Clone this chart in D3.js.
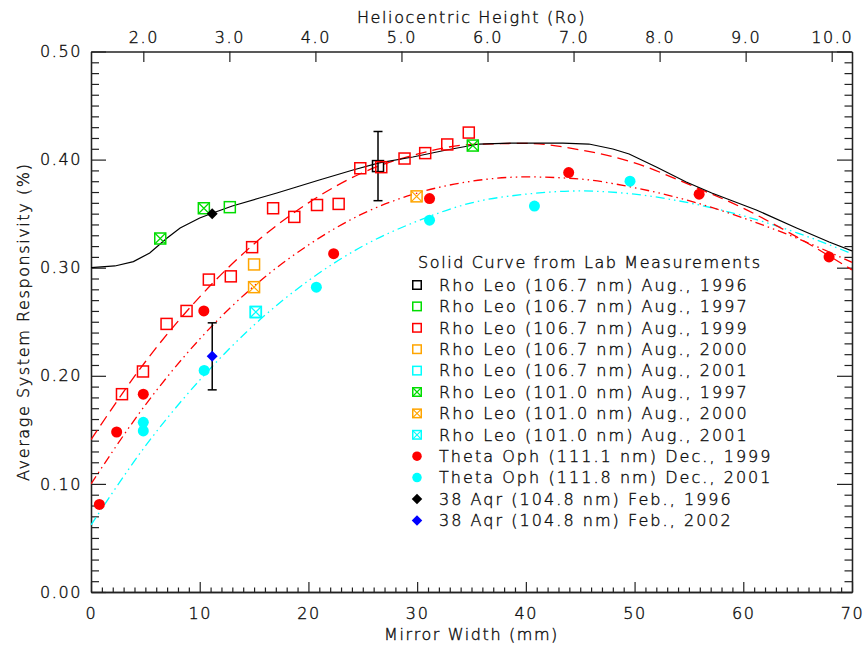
<!DOCTYPE html>
<html>
<head>
<meta charset="utf-8">
<script src="https://cdn.jsdelivr.net/npm/d3@7"></script>
<style>
  html, body { margin: 0; padding: 0; background: #fff; }
  svg { display: block; font-family: "DejaVu Sans", sans-serif; }
  .lbl { fill: #111; stroke: #111; stroke-width: 0.4px; font-size: 16px; letter-spacing: 1.6px; font-weight: 300; font-family: "DejaVu Sans", sans-serif; }
  .row { letter-spacing: 2.05px; }
</style>
</head>
<body>
<svg id="chart" width="865" height="648"></svg>
<script>
// ---- Data: mirror width (mm) vs. average system responsivity (%) ----

// Laboratory measurement curve (solid black)
const labCurve = [
  [0, 0.300], [2.2, 0.3016], [3.9, 0.3056], [5.4, 0.3136], [7.0, 0.3275], [8.2, 0.3367],
  [10.0, 0.3460], [11.2, 0.3506], [13.0, 0.3571], [15.5, 0.3645], [17.1, 0.3691],
  [18.9, 0.3747], [21.0, 0.3811], [24.1, 0.3904], [26.5, 0.3969], [29.6, 0.4024],
  [32.7, 0.4089], [35.7, 0.4144], [38.8, 0.4153], [43.4, 0.4153], [45.8, 0.4144],
  [48.0, 0.4098], [49.5, 0.4052], [52.0, 0.3931], [54.75, 0.3793], [57.1, 0.3691],
  [61.2, 0.3534], [64.9, 0.3367], [67.9, 0.3238], [70, 0.3155]
];

// Fitted curves
const fitRhoLeo1999 = [
  [0, 0.141], [5, 0.213], [10, 0.273], [15, 0.322], [20, 0.360], [25, 0.388], [30, 0.405],
  [35, 0.414], [40, 0.415], [45, 0.409], [50, 0.397], [55, 0.377], [60, 0.355], [65, 0.328], [70, 0.298]
];
const fitThetaOph1999 = [
  [0, 0.100], [5, 0.173], [10, 0.234], [15, 0.283], [20, 0.321], [25, 0.350], [30, 0.369],
  [35, 0.380], [40, 0.384], [45, 0.382], [50, 0.374], [55, 0.362], [60, 0.346], [65, 0.327], [70, 0.305]
];
const fitThetaOph2001 = [
  [0, 0.062], [5, 0.135], [10, 0.196], [15, 0.247], [20, 0.288], [25, 0.320], [30, 0.343],
  [35, 0.360], [40, 0.368], [45, 0.371], [50, 0.368], [55, 0.360], [60, 0.348], [65, 0.332], [70, 0.313]
];

// Stellar observations
const rhoLeo1067_1996 = [[26.4, 0.394]];
const rhoLeo1067_1996Err = [0.032];
const rhoLeo1067_1997 = [[12.77, 0.356]];
const rhoLeo1067_1999 = [
  [2.85, 0.183], [4.78, 0.204], [6.95, 0.248], [8.79, 0.260], [10.84, 0.289], [12.86, 0.292],
  [14.82, 0.319], [16.75, 0.355], [18.7, 0.347], [20.79, 0.358], [22.78, 0.359], [24.77, 0.392],
  [26.7, 0.393], [28.84, 0.401], [30.74, 0.406], [32.77, 0.414], [34.75, 0.425]
];
const rhoLeo1067_2000 = [[15.0, 0.303]];
const rhoLeo1067_2001 = [[15.16, 0.259]];
const rhoLeo1010_1997 = [[6.37, 0.327], [10.38, 0.355], [35.12, 0.413]];
const rhoLeo1010_2000 = [[15.0, 0.282], [29.95, 0.366]];
const rhoLeo1010_2001 = [[15.16, 0.259]];
const thetaOph1999 = [
  [0.77, 0.081], [2.36, 0.148], [4.81, 0.183], [10.38, 0.260], [22.32, 0.313],
  [31.14, 0.364], [43.94, 0.388], [55.94, 0.368], [67.89, 0.310]
];
const thetaOph2001 = [
  [4.81, 0.157], [4.81, 0.149], [10.41, 0.205], [20.73, 0.282], [31.14, 0.344],
  [40.79, 0.357], [49.58, 0.380]
];
const aqr1996 = [[11.15, 0.350]];
const aqr2002 = [[11.15, 0.218]];
const aqr2002Err = [0.031];

// Axis ticks and labels
const xMajorTicks = [0, 10, 20, 30, 40, 50, 60, 70];
const yMajorTicks = [0, 0.1, 0.2, 0.3, 0.4, 0.5];
const heightTicks = [2, 3, 4, 5, 6, 7, 8, 9, 10];
const heightDomain = [1.392, 10.236];
const xTitle = "Mirror Width (mm)";
const yTitle = "Average System Responsivity (%)";
const topTitle = "Heliocentric Height (Ro)";
const legendTitle = "Solid Curve from Lab Measurements";
const legendLabels = [
  "Rho Leo (106.7 nm) Aug., 1996",
  "Rho Leo (106.7 nm) Aug., 1997",
  "Rho Leo (106.7 nm) Aug., 1999",
  "Rho Leo (106.7 nm) Aug., 2000",
  "Rho Leo (106.7 nm) Aug., 2001",
  "Rho Leo (101.0 nm) Aug., 1997",
  "Rho Leo (101.0 nm) Aug., 2000",
  "Rho Leo (101.0 nm) Aug., 2001",
  "Theta Oph (111.1 nm) Dec., 1999",
  "Theta Oph (111.8 nm) Dec., 2001",
  "38 Aqr (104.8 nm) Feb., 1996",
  "38 Aqr (104.8 nm) Feb., 2002"
];

// ---- Styling of each observation series (same order as the legend) ----
const C = { black: "#000", green: "#00dd00", red: "#ff0000", orange: "#ffa500", cyan: "#00ffff", blue: "#0000ff" };
const series = [
  { data: rhoLeo1067_1996, shape: "square",  color: C.black },
  { data: rhoLeo1067_1997, shape: "square",  color: C.green },
  { data: rhoLeo1067_1999, shape: "square",  color: C.red },
  { data: rhoLeo1067_2000, shape: "square",  color: C.orange },
  { data: rhoLeo1067_2001, shape: "square",  color: C.cyan },
  { data: rhoLeo1010_1997, shape: "xsquare", color: C.green },
  { data: rhoLeo1010_2000, shape: "xsquare", color: C.orange },
  { data: rhoLeo1010_2001, shape: "xsquare", color: C.cyan },
  { data: thetaOph1999,    shape: "circle",  color: C.red },
  { data: thetaOph2001,    shape: "circle",  color: C.cyan },
  { data: aqr1996,         shape: "diamond", color: C.black },
  { data: aqr2002,         shape: "diamond", color: C.blue }
];

// ---- Layout ----
const plot = { left: 91, right: 852, top: 51.5, bottom: 592 };
const x = d3.scaleLinear().domain([0, 70]).range([plot.left, plot.right]);
const y = d3.scaleLinear().domain([0, 0.5]).range([plot.bottom, plot.top]);
const xTop = d3.scaleLinear().domain(heightDomain).range([plot.left, plot.right]);

const svg = d3.select("#chart");
const axisColor = "#222";

function styleAxis(g) {
  g.attr("font-family", null).attr("font-size", null);
  g.selectAll(".domain").attr("stroke", axisColor).attr("stroke-width", 1.3);
  g.selectAll(".tick line").attr("stroke", axisColor).attr("stroke-width", 1.2);
  g.selectAll(".tick text").attr("class", "lbl").attr("fill", null);
}

const xMinor = d3.range(0, 71).filter(v => v % 10 !== 0);
const yMinor = d3.range(0, 51).filter(v => v % 10 !== 0).map(v => v / 100);

// bottom axis
svg.append("g").attr("transform", `translate(0,${plot.bottom})`)
  .call(d3.axisBottom(x).tickValues(xMinor).tickSize(-4.5).tickSizeOuter(0).tickFormat(""))
  .call(styleAxis);
svg.append("g").attr("transform", `translate(0,${plot.bottom})`)
  .call(d3.axisBottom(x).tickValues(xMajorTicks).tickSize(-10).tickSizeOuter(0).tickPadding(16).tickFormat(d3.format("d")))
  .call(styleAxis);

// left axis
svg.append("g").attr("transform", `translate(${plot.left},0)`)
  .call(d3.axisLeft(y).tickValues(yMinor).tickSize(-8).tickSizeOuter(0).tickFormat(""))
  .call(styleAxis);
svg.append("g").attr("transform", `translate(${plot.left},0)`)
  .call(d3.axisLeft(y).tickValues(yMajorTicks).tickSize(-15).tickSizeOuter(0).tickPadding(9).tickFormat(d3.format(".2f")))
  .call(styleAxis);

// right axis (ticks only)
svg.append("g").attr("transform", `translate(${plot.right},0)`)
  .call(d3.axisRight(y).tickValues(yMinor).tickSize(-7.5).tickSizeOuter(0).tickFormat(""))
  .call(styleAxis);
svg.append("g").attr("transform", `translate(${plot.right},0)`)
  .call(d3.axisRight(y).tickValues(yMajorTicks).tickSize(-15).tickSizeOuter(0).tickFormat(""))
  .call(styleAxis);

// top axis: heliocentric height
svg.append("g").attr("transform", `translate(0,${plot.top})`)
  .call(d3.axisTop(xTop).tickValues(heightTicks).tickSize(-10.5).tickSizeOuter(0).tickPadding(8.5).tickFormat(d3.format(".1f")))
  .call(styleAxis);

// axis titles
const midX = (plot.left + plot.right) / 2;
svg.append("text").attr("class", "lbl").attr("x", midX).attr("y", 640)
  .attr("text-anchor", "middle").text(xTitle);
svg.append("text").attr("class", "lbl").attr("x", midX).attr("y", 23)
  .attr("text-anchor", "middle").text(topTitle);
svg.append("text").attr("class", "lbl")
  .attr("transform", `translate(23,${(plot.top + plot.bottom) / 2}) rotate(-90)`)
  .attr("text-anchor", "middle").attr("dy", "0.35em").text(yTitle);

// ---- Curves ----
svg.append("clipPath").attr("id", "plotClip").append("rect")
  .attr("x", plot.left).attr("y", plot.top)
  .attr("width", plot.right - plot.left).attr("height", plot.bottom - plot.top);

const curves = svg.append("g").attr("clip-path", "url(#plotClip)").attr("fill", "none");
const lineLinear = d3.line().x(d => x(d[0])).y(d => y(d[1]));
const lineSmooth = d3.line().x(d => x(d[0])).y(d => y(d[1])).curve(d3.curveMonotoneX);

curves.append("path").attr("d", lineSmooth(fitThetaOph2001))
  .attr("stroke", C.cyan).attr("stroke-width", 1.3).attr("stroke-dasharray", "9,4,1.5,4,1.5,4");
curves.append("path").attr("d", lineSmooth(fitThetaOph1999))
  .attr("stroke", C.red).attr("stroke-width", 1.3).attr("stroke-dasharray", "9,4,1.5,4,1.5,4");
curves.append("path").attr("d", lineSmooth(fitRhoLeo1999))
  .attr("stroke", C.red).attr("stroke-width", 1.3).attr("stroke-dasharray", "11,6");
curves.append("path").attr("d", lineLinear(labCurve))
  .attr("stroke", "#000").attr("stroke-width", 1.2);

// ---- Error bars ----
function errorBar(pt, err) {
  const g = svg.append("g").attr("stroke", "#000").attr("stroke-width", 1.5);
  const cx = x(pt[0]);
  g.append("line").attr("x1", cx).attr("x2", cx).attr("y1", y(pt[1] - err)).attr("y2", y(pt[1] + err));
  [pt[1] - err, pt[1] + err].forEach(v => {
    g.append("line").attr("x1", cx - 4.5).attr("x2", cx + 4.5).attr("y1", y(v)).attr("y2", y(v));
  });
}
errorBar(rhoLeo1067_1996[0], rhoLeo1067_1996Err[0]);
errorBar(aqr2002[0], aqr2002Err[0]);

// ---- Symbols ----
function drawSymbol(g, shape, color, cx, cy, s) {
  if (shape === "square" || shape === "xsquare") {
    g.append("rect").attr("x", cx - s / 2).attr("y", cy - s / 2).attr("width", s).attr("height", s)
      .attr("fill", "none").attr("stroke", color).attr("stroke-width", 1.5);
    if (shape === "xsquare") {
      g.append("path").attr("d", `M${cx - s / 2},${cy - s / 2}L${cx + s / 2},${cy + s / 2}M${cx + s / 2},${cy - s / 2}L${cx - s / 2},${cy + s / 2}`)
        .attr("stroke", color).attr("stroke-width", 1.2).attr("fill", "none");
    }
  } else if (shape === "circle") {
    g.append("circle").attr("cx", cx).attr("cy", cy).attr("r", s / 2).attr("fill", color);
  } else if (shape === "diamond") {
    const r = s / 2;
    g.append("path").attr("d", `M${cx},${cy - r}L${cx + r},${cy}L${cx},${cy + r}L${cx - r},${cy}Z`).attr("fill", color);
  }
}

const marks = svg.append("g");
const markSize = { square: 11, xsquare: 11, circle: 11, diamond: 11 };
series.forEach(sr => {
  sr.data.forEach(d => drawSymbol(marks, sr.shape, sr.color, x(d[0]), y(d[1]), markSize[sr.shape]));
});

// ---- Legend ----
const legend = svg.append("g");
const legX = 417, legTextX = 439, legTop = 285, legStep = 21.4;
legend.append("text").attr("class", "lbl").attr("x", 418).attr("y", 262).attr("dy", "0.36em").text(legendTitle);
const legSize = { square: 8.5, xsquare: 8.5, circle: 9.5, diamond: 10.5 };
series.forEach((sr, i) => {
  const cy = legTop + i * legStep;
  drawSymbol(legend, sr.shape, sr.color, legX, cy, legSize[sr.shape]);
  legend.append("text").attr("class", "lbl row").attr("x", legTextX).attr("y", cy).attr("dy", "0.36em").text(legendLabels[i]);
});
</script>
</body>
</html>
